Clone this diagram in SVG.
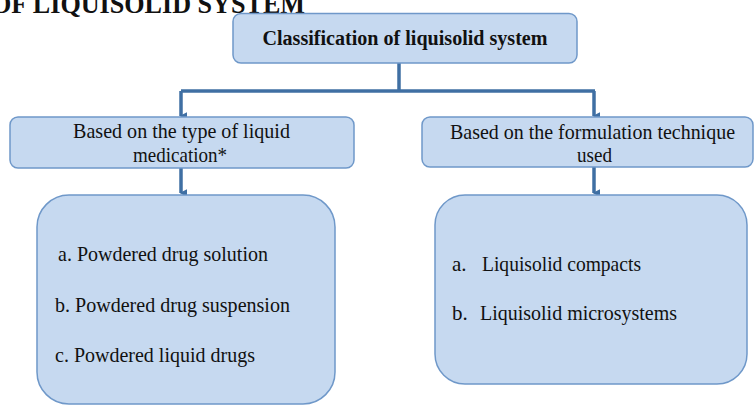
<svg xmlns="http://www.w3.org/2000/svg" width="755" height="407" viewBox="0 0 755 407">
<defs>
<style>
.box{fill:#c6d9f0;stroke:#6f98c9;stroke-width:1.5}
.t{font-family:"Liberation Serif","Times New Roman",serif;fill:#111;font-size:21px}
.b{font-weight:bold;font-size:20px}
.c{fill:none;stroke:#3f6fa3;stroke-width:3.5}
</style>
<marker id="ah" viewBox="0 0 6 6" refX="3" refY="5" markerWidth="2.2" markerHeight="2.2" orient="auto">
<path d="M0,0 L6,0 L3,6 Z" fill="#3f6fa3"/>
</marker>
</defs>
<rect width="755" height="407" fill="#fff"/>
<text class="t b" x="-9" y="12.5" style="font-size:27px" textLength="314" lengthAdjust="spacingAndGlyphs">OF LIQUISOLID SYSTEM</text>
<g id="connectors">
<path class="c" d="M399,63 V91"/>
<path class="c" d="M181,91 H595"/>
<path class="c" d="M181,91 V116" marker-end="url(#ah)"/>
<path class="c" d="M594,91 V116" marker-end="url(#ah)"/>
<path class="c" d="M181,168 V193" marker-end="url(#ah)"/>
<path class="c" d="M594,167 V193" marker-end="url(#ah)"/>
</g>
<g id="root">
<rect class="box" x="233" y="13.5" width="344" height="49.5" rx="8"/>
<text class="t b" x="405" y="45" text-anchor="middle" textLength="285" lengthAdjust="spacingAndGlyphs">Classification of liquisolid system</text>
</g>
<g id="liquid">
<rect class="box" x="10" y="117" width="344" height="51" rx="8"/>
<text class="t" x="181.5" y="138" text-anchor="middle" textLength="217" lengthAdjust="spacingAndGlyphs">Based on the type of liquid</text>
<text class="t" x="180" y="162" text-anchor="middle" textLength="94" lengthAdjust="spacingAndGlyphs">medication*</text>
</g>
<g id="technique">
<rect class="box" x="422" y="117" width="331" height="50" rx="8"/>
<text class="t" x="592.5" y="139" text-anchor="middle" textLength="285" lengthAdjust="spacingAndGlyphs">Based on the formulation  technique</text>
<text class="t" x="594.5" y="162" text-anchor="middle" textLength="35" lengthAdjust="spacingAndGlyphs">used</text>
</g>
<g id="liquid-types">
<rect class="box" x="37" y="195" width="298" height="209" rx="32"/>
<text class="t" x="58" y="261" textLength="210" lengthAdjust="spacingAndGlyphs">a. Powdered drug solution</text>
<text class="t" x="55" y="312" textLength="235" lengthAdjust="spacingAndGlyphs">b. Powdered drug suspension</text>
<text class="t" x="55" y="362" textLength="200" lengthAdjust="spacingAndGlyphs">c. Powdered liquid drugs</text>
</g>
<g id="technique-types">
<rect class="box" x="435" y="195" width="312" height="189" rx="30"/>
<text class="t" x="452" y="271">a.</text>
<text class="t" x="482" y="271" textLength="159" lengthAdjust="spacingAndGlyphs">Liquisolid compacts</text>
<text class="t" x="452" y="320">b.</text>
<text class="t" x="480" y="320" textLength="197" lengthAdjust="spacingAndGlyphs">Liquisolid microsystems</text>
</g>
</svg>
